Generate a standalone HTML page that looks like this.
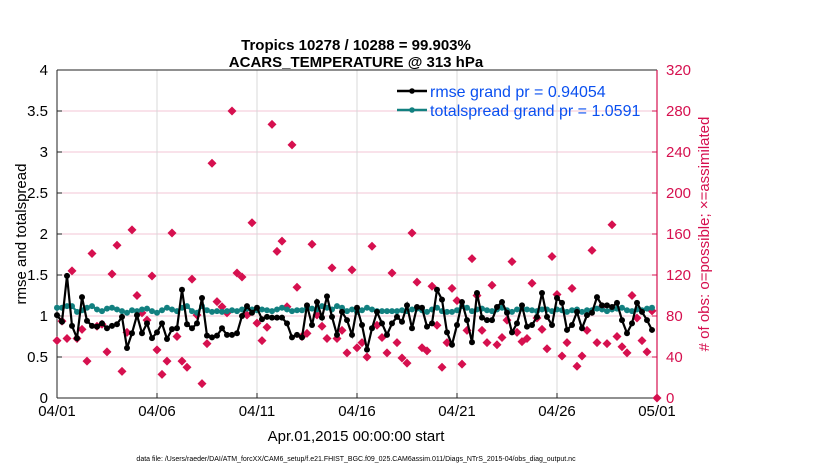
<!DOCTYPE html>
<html><head><meta charset="utf-8"><style>
body{margin:0;background:#fff;}
svg{display:block;font-family:"Liberation Sans",sans-serif;}
</style></head><body>
<svg id="chart" width="830" height="470" viewBox="0 0 830 470">
<g id="grid"></g>
<g id="axes"></g>
<g id="marks"></g>
<text x="356" y="50" text-anchor="middle" font-size="15" font-weight="bold">Tropics 10278 / 10288 = 99.903%</text>
<text x="356" y="67" text-anchor="middle" font-size="15" font-weight="bold">ACARS_TEMPERATURE @ 313 hPa</text>
<text transform="translate(26,234) rotate(-90)" text-anchor="middle" font-size="15">rmse and totalspread</text>
<text transform="translate(709,234) rotate(-90)" text-anchor="middle" font-size="15" fill="#d6104f"># of obs: o=possible; ×=assimilated</text>
<text x="356" y="441" text-anchor="middle" font-size="15">Apr.01,2015 00:00:00 start</text>
<text x="356" y="461" text-anchor="middle" font-size="7">data file: /Users/raeder/DAI/ATM_forcXX/CAM6_setup/f.e21.FHIST_BGC.f09_025.CAM6assim.011/Diags_NTrS_2015-04/obs_diag_output.nc</text>
<g>
<line x1="397" y1="91" x2="427" y2="91" stroke="#000" stroke-width="2.5"/><circle cx="412" cy="91" r="2.8" fill="#000"/>
<text x="430" y="97" font-size="16" fill="#0a50f0">rmse grand pr = 0.94054</text>
<line x1="397" y1="110" x2="427" y2="110" stroke="#128080" stroke-width="2.5"/><circle cx="412" cy="110" r="2.8" fill="#128080"/>
<text x="430" y="116" font-size="16" fill="#0a50f0">totalspread grand pr = 1.0591</text>
</g>
</svg>
<script>
const dateLabels=["04/01","04/06","04/11","04/16","04/21","04/26","05/01"];
const leftTicks=[0,0.5,1,1.5,2,2.5,3,3.5,4];
const rightTicks=[0,40,80,120,160,200,240,280,320];
const rmse=[1.01,0.93,1.49,0.88,0.73,1.23,0.94,0.88,0.87,0.91,0.85,0.88,0.9,0.99,0.61,0.79,1.01,0.79,0.91,0.73,
0.8,0.91,0.72,0.84,0.85,1.32,0.9,0.85,0.91,1.22,0.76,0.74,0.76,0.85,0.77,0.77,0.79,1.0,1.12,1.04,
1.1,0.96,0.99,0.98,0.98,0.98,0.91,0.74,0.77,0.74,1.13,0.89,1.17,0.98,1.24,0.99,0.77,1.05,0.95,0.77,
1.1,0.89,0.59,0.85,1.05,0.91,0.77,0.91,0.99,0.93,1.13,0.85,1.11,1.1,0.87,0.91,1.32,1.2,0.8,0.65,
0.89,1.17,0.95,0.68,1.28,0.98,0.95,0.95,1.11,1.17,1.04,0.8,0.91,1.13,0.87,0.89,0.99,1.28,0.99,0.89,
1.22,1.16,0.83,0.89,1.05,0.85,1.01,1.04,1.23,1.13,1.13,1.11,1.16,0.95,0.79,0.91,1.16,1.05,0.95,0.83];
const spread=[1.1,1.1,1.12,1.12,1.05,1.07,1.1,1.12,1.08,1.06,1.09,1.1,1.08,1.06,1.04,1.07,1.06,1.08,1.09,1.06,
1.04,1.07,1.1,1.08,1.06,1.1,1.12,1.06,1.04,1.12,1.07,1.05,1.06,1.05,1.06,1.07,1.06,1.08,1.09,1.08,
1.07,1.08,1.07,1.06,1.08,1.1,1.08,1.06,1.07,1.07,1.1,1.09,1.08,1.12,1.1,1.08,1.12,1.1,1.06,1.08,
1.05,1.07,1.1,1.08,1.06,1.06,1.06,1.06,1.06,1.07,1.06,1.08,1.09,1.07,1.05,1.08,1.1,1.06,1.05,1.05,
1.07,1.12,1.1,1.06,1.08,1.09,1.07,1.06,1.08,1.1,1.07,1.05,1.08,1.09,1.08,1.07,1.06,1.08,1.08,1.06,
1.08,1.07,1.05,1.07,1.08,1.05,1.07,1.07,1.09,1.08,1.06,1.08,1.09,1.1,1.07,1.06,1.08,1.07,1.09,1.1];
const obsCount=[56,75,58,124,58,67,36,141,70,72,45,121,149,26,64,164,100,83,76,119,
47,23,36,161,60,36,30,116,81,14,53,229,94,89,83,280,122,118,81,171,
73,56,69,267,143,153,89,247,108,60,63,150,81,70,58,127,58,66,44,125,
49,54,40,148,71,59,44,122,54,39,34,161,113,49,46,109,71,30,54,107,
95,33,66,136,100,66,54,110,52,59,76,133,64,55,58,112,78,67,48,138,
101,41,54,107,31,41,66,144,54,89,53,169,60,50,44,100,78,56,45,85,0];
const NS="http://www.w3.org/2000/svg";
const X0=57,X1=657,Y0=398,Y1=70;
const xDay=d=>X0+(X1-X0)*d/30;
const yL=v=>Y0-(Y0-Y1)*v/4;
const yR=v=>Y0-(Y0-Y1)*v/320;
function mk(tag,attrs,parent){const e=document.createElementNS(NS,tag);for(const k in attrs)e.setAttribute(k,attrs[k]);parent.appendChild(e);return e;}
const grid=document.getElementById('grid'),axes=document.getElementById('axes'),marks=document.getElementById('marks');
rightTicks.forEach(t=>{if(t>0&&t<320){const l=mk('line',{x1:X0,x2:X1,y1:yR(t),y2:yR(t),stroke:'#f3c6d4','stroke-width':1},grid);

}});
dateLabels.forEach((s,i)=>{const x=xDay(i*5);
if(i>0&&i<6){const g=mk('line',{x1:x,x2:x,y1:Y1,y2:Y0,stroke:'#d8d8d8','stroke-width':1},grid);

}
mk('line',{x1:x,x2:x,y1:Y0,y2:Y0-5,stroke:'#222'},axes);
const t=mk('text',{x:x,y:Y0+18,'text-anchor':'middle','font-size':15},axes);t.textContent=s;

});
leftTicks.forEach(v=>{mk('line',{x1:X0,x2:X0+5,y1:yL(v),y2:yL(v),stroke:'#222'},axes);
const t=mk('text',{x:X0-9,y:yL(v)+5,'text-anchor':'end','font-size':15},axes);t.textContent=String(v);

});
rightTicks.forEach(v=>{mk('line',{x1:X1,x2:X1-5,y1:yR(v),y2:yR(v),stroke:'#d6104f'},axes);
const t=mk('text',{x:X1+9,y:yR(v)+5,'font-size':15,fill:'#d6104f'},axes);t.textContent=String(v);

});
mk('line',{x1:X0,x2:X1,y1:Y1,y2:Y1,stroke:'#222'},axes);
mk('line',{x1:X0,x2:X1,y1:Y0,y2:Y0,stroke:'#222'},axes);
mk('line',{x1:X0,x2:X0,y1:Y1,y2:Y0,stroke:'#222'},axes);
mk('line',{x1:X1,x2:X1,y1:Y1,y2:Y0,stroke:'#d6104f','stroke-width':1.2},axes);
obsCount.forEach((v,i)=>{const x=xDay(i/4),y=yR(v);
const d=mk('path',{d:`M${x} ${y-4.5}L${x+4.5} ${y}L${x} ${y+4.5}L${x-4.5} ${y}Z`,fill:'#d6104f'},marks);

});
function series(arr,color,name){
const p=mk('polyline',{points:arr.map((v,i)=>xDay(i/4)+','+yL(v)).join(' '),fill:'none',stroke:color,'stroke-width':2.2},marks);


arr.forEach((v,i)=>{const c=mk('circle',{cx:xDay(i/4),cy:yL(v),r:3,fill:color},marks);

});}
series(spread,'#128080','totalspread');
series(rmse,'#000000','rmse');
</script>
</body></html>
